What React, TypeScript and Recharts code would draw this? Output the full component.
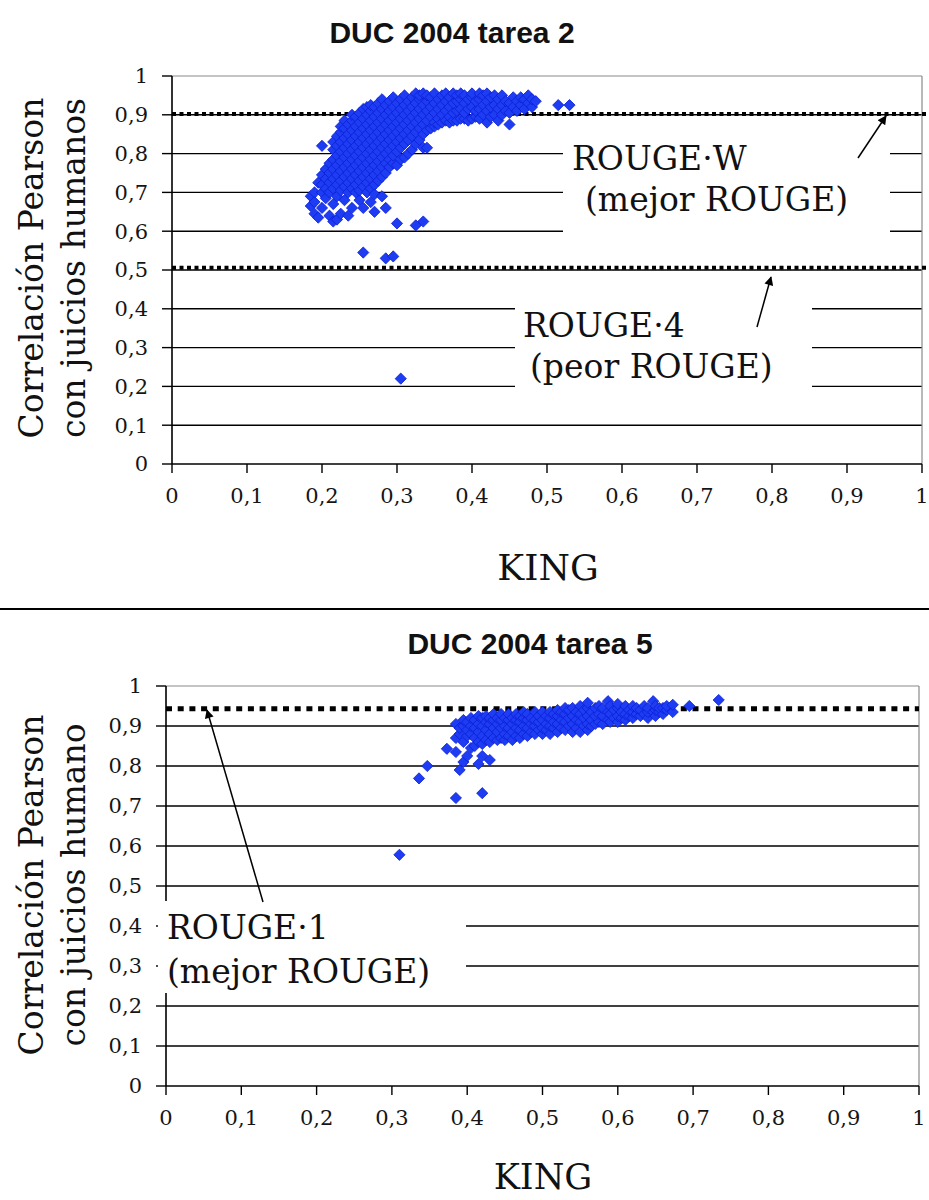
import React from 'react';
import { ScatterChart, Scatter, XAxis, YAxis, CartesianGrid, ReferenceLine } from 'recharts';

// Axis ticks shared by both panels
const xTicks = [0, 0.1, 0.2, 0.3, 0.4, 0.5, 0.6, 0.7, 0.8, 0.9, 1];
const yTicks = [0, 0.1, 0.2, 0.3, 0.4, 0.5, 0.6, 0.7, 0.8, 0.9, 1];
const gridValues = [0.1, 0.2, 0.3, 0.4, 0.5, 0.6, 0.7, 0.8, 0.9];

// Reference correlations of ROUGE variants
const rougeWTarea2 = 0.902;
const rouge4Tarea2 = 0.506;
const rouge1Tarea5 = 0.943;

// DUC 2004 task 2: KING value -> Pearson correlations observed at that KING value
const tarea2Columns: [number, number[]][] = [
  [0.185, [0.665, 0.69]],
  [0.19, [0.645, 0.675, 0.7]],
  [0.195, [0.635, 0.725]],
  [0.2, [0.66, 0.7, 0.72, 0.745, 0.82]],
  [0.205, [0.685, 0.71, 0.735, 0.76]],
  [0.21, [0.64, 0.7, 0.725, 0.75, 0.775]],
  [0.215, [0.625, 0.67, 0.71, 0.735, 0.76, 0.785, 0.81, 0.83]],
  [0.22, [0.63, 0.69, 0.72, 0.745, 0.77, 0.795, 0.82, 0.845]],
  [0.225, [0.645, 0.705, 0.73, 0.755, 0.78, 0.805, 0.83, 0.855, 0.87]],
  [0.23, [0.68, 0.715, 0.74, 0.765, 0.79, 0.815, 0.84, 0.865, 0.885]],
  [0.235, [0.64, 0.7, 0.725, 0.75, 0.775, 0.8, 0.825, 0.85, 0.875]],
  [0.24, [0.66, 0.71, 0.735, 0.76, 0.785, 0.81, 0.835, 0.86, 0.885, 0.9]],
  [0.245, [0.7, 0.72, 0.745, 0.77, 0.795, 0.82, 0.845, 0.87, 0.895]],
  [0.25, [0.68, 0.705, 0.73, 0.755, 0.78, 0.805, 0.83, 0.855, 0.88, 0.905]],
  [0.255, [0.545, 0.66, 0.715, 0.74, 0.765, 0.79, 0.815, 0.84, 0.865, 0.89, 0.915]],
  [0.26, [0.7, 0.725, 0.75, 0.775, 0.8, 0.825, 0.85, 0.875, 0.9, 0.92]],
  [0.265, [0.675, 0.71, 0.735, 0.76, 0.785, 0.81, 0.835, 0.86, 0.885, 0.91, 0.925]],
  [0.27, [0.65, 0.695, 0.72, 0.745, 0.77, 0.795, 0.82, 0.845, 0.87, 0.895, 0.92]],
  [0.275, [0.73, 0.755, 0.78, 0.805, 0.83, 0.855, 0.88, 0.905, 0.93]],
  [0.28, [0.69, 0.74, 0.765, 0.79, 0.815, 0.84, 0.865, 0.89, 0.915, 0.94]],
  [0.285, [0.53, 0.66, 0.75, 0.775, 0.8, 0.825, 0.85, 0.875, 0.9, 0.925]],
  [0.29, [0.765, 0.785, 0.81, 0.835, 0.86, 0.885, 0.91, 0.935]],
  [0.295, [0.535, 0.775, 0.795, 0.82, 0.845, 0.87, 0.895, 0.92, 0.945]],
  [0.3, [0.62, 0.77, 0.805, 0.83, 0.855, 0.88, 0.905, 0.93]],
  [0.305, [0.22, 0.785, 0.815, 0.84, 0.865, 0.89, 0.915, 0.94]],
  [0.31, [0.79, 0.825, 0.85, 0.875, 0.9, 0.925, 0.95]],
  [0.315, [0.8, 0.835, 0.86, 0.885, 0.91, 0.935]],
  [0.32, [0.81, 0.845, 0.87, 0.895, 0.92, 0.945]],
  [0.325, [0.615, 0.825, 0.855, 0.88, 0.905, 0.93, 0.955]],
  [0.33, [0.835, 0.865, 0.89, 0.915, 0.94, 0.95]],
  [0.335, [0.625, 0.815, 0.85, 0.875, 0.9, 0.925, 0.955]],
  [0.34, [0.815, 0.86, 0.885, 0.91, 0.935, 0.95]],
  [0.345, [0.865, 0.895, 0.92, 0.945]],
  [0.35, [0.87, 0.88, 0.905, 0.93, 0.955]],
  [0.355, [0.875, 0.89, 0.915, 0.94]],
  [0.36, [0.88, 0.9, 0.925, 0.95]],
  [0.365, [0.885, 0.91, 0.935, 0.955]],
  [0.37, [0.88, 0.895, 0.92, 0.945]],
  [0.375, [0.885, 0.905, 0.93, 0.955]],
  [0.38, [0.885, 0.91, 0.935, 0.95]],
  [0.385, [0.89, 0.915, 0.94, 0.955]],
  [0.39, [0.89, 0.905, 0.93, 0.95]],
  [0.395, [0.885, 0.915, 0.94]],
  [0.4, [0.89, 0.92, 0.945, 0.955]],
  [0.405, [0.895, 0.91, 0.935]],
  [0.41, [0.89, 0.915, 0.94, 0.955]],
  [0.415, [0.9, 0.925, 0.95]],
  [0.42, [0.88, 0.91, 0.935, 0.955]],
  [0.425, [0.895, 0.92, 0.945]],
  [0.43, [0.9, 0.925, 0.95]],
  [0.435, [0.885, 0.915, 0.94]],
  [0.44, [0.9, 0.925, 0.95]],
  [0.445, [0.91, 0.935]],
  [0.45, [0.875, 0.905, 0.93]],
  [0.455, [0.92, 0.945]],
  [0.46, [0.91, 0.935]],
  [0.465, [0.925, 0.945]],
  [0.47, [0.915, 0.94]],
  [0.475, [0.93, 0.95]],
  [0.48, [0.92, 0.94]],
  [0.485, [0.935]],
  [0.515, [0.925]],
  [0.53, [0.925]],
];

// DUC 2004 task 5: KING value -> Pearson correlations observed at that KING value
const tarea5Columns: [number, number[]][] = [
  [0.31, [0.578]],
  [0.336, [0.769]],
  [0.347, [0.8]],
  [0.373, [0.843]],
  [0.385, [0.72, 0.835, 0.87, 0.905]],
  [0.39, [0.79, 0.88, 0.895]],
  [0.395, [0.81, 0.86, 0.9, 0.915]],
  [0.4, [0.825, 0.875, 0.89, 0.91]],
  [0.405, [0.845, 0.88, 0.9, 0.92]],
  [0.41, [0.85, 0.87, 0.895, 0.915]],
  [0.415, [0.805, 0.86, 0.885, 0.905, 0.925]],
  [0.42, [0.732, 0.825, 0.855, 0.875, 0.9, 0.92]],
  [0.425, [0.865, 0.89, 0.91, 0.925]],
  [0.43, [0.815, 0.86, 0.88, 0.905, 0.92]],
  [0.435, [0.87, 0.895, 0.915, 0.93]],
  [0.44, [0.865, 0.885, 0.905, 0.92]],
  [0.445, [0.87, 0.895, 0.915, 0.93]],
  [0.45, [0.865, 0.88, 0.9, 0.92]],
  [0.455, [0.875, 0.895, 0.915, 0.93]],
  [0.46, [0.865, 0.885, 0.905, 0.92]],
  [0.465, [0.875, 0.895, 0.915, 0.93]],
  [0.47, [0.87, 0.89, 0.91, 0.925]],
  [0.475, [0.88, 0.9, 0.92, 0.935]],
  [0.48, [0.875, 0.895, 0.915, 0.93]],
  [0.485, [0.885, 0.905, 0.92]],
  [0.49, [0.88, 0.9, 0.915, 0.935]],
  [0.495, [0.89, 0.91, 0.925]],
  [0.5, [0.88, 0.895, 0.915, 0.935]],
  [0.505, [0.89, 0.905, 0.925]],
  [0.51, [0.88, 0.9, 0.92, 0.935]],
  [0.515, [0.895, 0.91, 0.93]],
  [0.52, [0.885, 0.905, 0.925, 0.94]],
  [0.525, [0.895, 0.915, 0.935]],
  [0.53, [0.89, 0.91, 0.93, 0.945]],
  [0.535, [0.9, 0.92, 0.94]],
  [0.54, [0.885, 0.905, 0.925, 0.945]],
  [0.545, [0.895, 0.915, 0.935]],
  [0.55, [0.885, 0.91, 0.93, 0.95]],
  [0.555, [0.9, 0.92, 0.94]],
  [0.56, [0.89, 0.905, 0.925, 0.945, 0.958]],
  [0.565, [0.9, 0.915, 0.935]],
  [0.57, [0.905, 0.925, 0.945]],
  [0.575, [0.91, 0.93, 0.95]],
  [0.58, [0.905, 0.925, 0.945]],
  [0.587, [0.915, 0.935, 0.962]],
  [0.59, [0.91, 0.93, 0.95]],
  [0.595, [0.92, 0.94]],
  [0.6, [0.91, 0.925, 0.945, 0.955]],
  [0.605, [0.92, 0.935]],
  [0.61, [0.915, 0.93, 0.95]],
  [0.615, [0.925, 0.94]],
  [0.62, [0.92, 0.935, 0.95]],
  [0.625, [0.93, 0.945]],
  [0.63, [0.925, 0.94]],
  [0.635, [0.93, 0.95]],
  [0.64, [0.92, 0.935, 0.945]],
  [0.647, [0.935, 0.962]],
  [0.65, [0.925, 0.94, 0.95]],
  [0.655, [0.935, 0.945]],
  [0.66, [0.93, 0.945]],
  [0.665, [0.94, 0.95]],
  [0.673, [0.935, 0.953]],
  [0.695, [0.95]],
  [0.734, [0.965]],
];

type Pt = { king: number; pearson: number };

const toPoints = (cols: [number, number[]][]): Pt[] =>
  cols.flatMap(([king, ys]) => ys.map((pearson) => ({ king, pearson })));

const tarea2Points = toPoints(tarea2Columns);
const tarea5Points = toPoints(tarea5Columns);

const SERIF = '"DejaVu Serif", serif';
const SANS = '"Liberation Sans", Arial, sans-serif';

const fmt = (v: number) => (v === 0 ? '0' : v === 1 ? '1' : v.toFixed(1).replace('.', ','));

const Diamond = (props: any) => {
  const { cx, cy } = props;
  if (cx == null || cy == null) return null;
  const r = 5.6;
  return (
    <path
      d={`M${cx},${cy - r}L${cx + r},${cy}L${cx},${cy + r}L${cx - r},${cy}Z`}
      fill="#1e3cf2"
      stroke="#0a1ed8"
      strokeWidth={0.8}
    />
  );
};

const tickStyle = { fontFamily: SERIF, fontSize: 21, fill: '#151515' };

type PanelProps = {
  top: number;
  height: number;
  yAxisWidth: number;
  rightMargin: number;
  xAxisHeight: number;
  data: Pt[];
  children?: React.ReactNode;
};

function Panel({ top, height, yAxisWidth, rightMargin, xAxisHeight, data, children }: PanelProps) {
  return (
    <div style={{ position: 'absolute', left: 0, top, width: 929, height }}>
      <ScatterChart width={929} height={height} margin={{ top: 76, right: rightMargin, bottom: 0, left: 0 }}>
        <CartesianGrid vertical={false} horizontalValues={gridValues} stroke="#000" strokeWidth={1.4} />
        <XAxis
          type="number"
          dataKey="king"
          domain={[0, 1]}
          ticks={xTicks}
          tickFormatter={fmt}
          height={xAxisHeight}
          axisLine={{ stroke: '#000', strokeWidth: 1.6 }}
          tickLine={{ stroke: '#000', strokeWidth: 1.4 }}
          tickSize={9}
          tickMargin={15}
          tick={tickStyle}
          interval={0}
          allowDataOverflow
        />
        <YAxis
          type="number"
          dataKey="pearson"
          domain={[0, 1]}
          ticks={yTicks}
          tickFormatter={fmt}
          width={yAxisWidth}
          axisLine={{ stroke: '#000', strokeWidth: 1.6 }}
          tickLine={{ stroke: '#000', strokeWidth: 1.4 }}
          tickSize={10}
          tickMargin={14}
          tick={tickStyle}
          interval={0}
          allowDataOverflow
        />
        <ReferenceLine y={1} stroke="#8a8a8a" strokeWidth={1.2} ifOverflow="visible" />
        <ReferenceLine x={1} stroke="#8a8a8a" strokeWidth={1.2} ifOverflow="visible" />
        {children}
        <Scatter data={data} shape={Diamond} isAnimationActive={false} />
      </ScatterChart>
    </div>
  );
}

const annot = { fontFamily: SERIF, fontSize: 33, fill: '#111' };

export default function App() {
  return (
    <div style={{ position: 'absolute', left: 0, top: 0, width: 929, height: 1200, background: '#fff', overflow: 'hidden' }}>
      <Panel top={0} height={605} yAxisWidth={172} rightMargin={7} xAxisHeight={141} data={tarea2Points}>
        <ReferenceLine
          segment={[{ x: 0, y: rougeWTarea2 }, { x: 1.01, y: rougeWTarea2 }]}
          stroke="#000"
          strokeWidth={4}
          strokeDasharray="4 3.5"
          ifOverflow="visible"
        />
        <ReferenceLine
          segment={[{ x: 0, y: rouge4Tarea2 }, { x: 1.01, y: rouge4Tarea2 }]}
          stroke="#000"
          strokeWidth={4}
          strokeDasharray="4 3.5"
          ifOverflow="visible"
        />
      </Panel>
      <Panel top={610} height={590} yAxisWidth={166} rightMargin={10} xAxisHeight={114} data={tarea5Points}>
        <ReferenceLine
          segment={[{ x: 0, y: rouge1Tarea5 }, { x: 1, y: rouge1Tarea5 }]}
          stroke="#000"
          strokeWidth={5}
          strokeDasharray="6 5.7"
          ifOverflow="visible"
        />
      </Panel>

      <svg width={929} height={1200} style={{ position: 'absolute', left: 0, top: 0, pointerEvents: 'none' }}>
        <defs>
          <marker id="tip" viewBox="0 0 10 10" refX="9" refY="5" markerWidth="10" markerHeight="9" markerUnits="userSpaceOnUse" orient="auto">
            <path d="M0,0L10,5L0,10Z" fill="#000" />
          </marker>
        </defs>

        {/* titles */}
        <text x={452} y={43} textAnchor="middle" fontFamily={SANS} fontWeight="bold" fontSize={30} fill="#111">
          DUC 2004 tarea 2
        </text>
        <text x={530} y={654} textAnchor="middle" fontFamily={SANS} fontWeight="bold" fontSize={30} fill="#111">
          DUC 2004 tarea 5
        </text>

        {/* divider between the panels */}
        <line x1={0} x2={929} y1={609} y2={609} stroke="#000" strokeWidth={2} />

        {/* axis titles, upper panel */}
        <text x={43} y={268} transform="rotate(-90 43 268)" textAnchor="middle" fontFamily={SERIF} fontSize={33} fill="#111">
          Correlación Pearson
        </text>
        <text x={85} y={268} transform="rotate(-90 85 268)" textAnchor="middle" fontFamily={SERIF} fontSize={33} fill="#111">
          con juicios humanos
        </text>
        <text x={548} y={580} textAnchor="middle" fontFamily={SERIF} fontSize={36} fill="#111">
          KING
        </text>

        {/* axis titles, lower panel */}
        <text x={43} y={885} transform="rotate(-90 43 885)" textAnchor="middle" fontFamily={SERIF} fontSize={33} fill="#111">
          Correlación Pearson
        </text>
        <text x={85} y={885} transform="rotate(-90 85 885)" textAnchor="middle" fontFamily={SERIF} fontSize={33} fill="#111">
          con juicios humano
        </text>
        <text x={543} y={1189} textAnchor="middle" fontFamily={SERIF} fontSize={35} fill="#111">
          KING
        </text>

        {/* ROUGE-W note */}
        <rect x={563} y={137} width={327} height={106} fill="#fff" />
        <text x={572} y={170} {...annot}>ROUGE·W</text>
        <text x={585} y={211} {...annot}>(mejor ROUGE)</text>
        <line x1={858} y1={158} x2={886} y2={116} stroke="#000" strokeWidth={1.5} markerEnd="url(#tip)" />

        {/* ROUGE-4 note */}
        <rect x={515} y={296} width={297} height={100} fill="#fff" />
        <text x={523} y={337} {...annot}>ROUGE·4</text>
        <text x={530} y={378} {...annot}>(peor ROUGE)</text>
        <line x1={757} y1={327} x2={771} y2={277} stroke="#000" strokeWidth={1.5} markerEnd="url(#tip)" />

        {/* ROUGE-1 note */}
        <rect x={158} y={901} width={308} height={92} fill="#fff" />
        <text x={167} y={939} {...annot}>ROUGE·1</text>
        <text x={167} y={983} {...annot}>(mejor ROUGE)</text>
        <line x1={263} y1={902} x2={207} y2={710} stroke="#000" strokeWidth={1.5} markerEnd="url(#tip)" />
      </svg>
    </div>
  );
}
